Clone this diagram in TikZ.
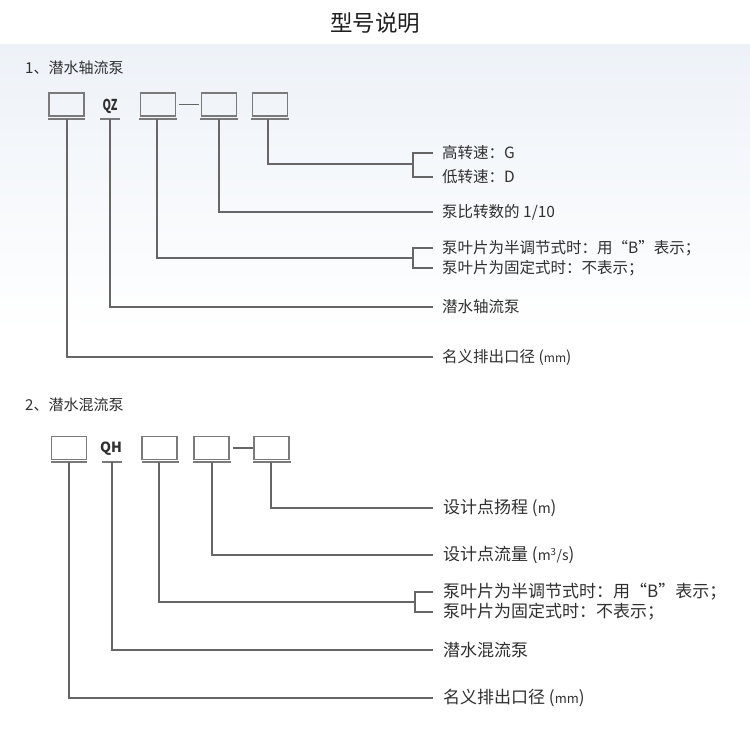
\documentclass[tikz,border=0pt]{standalone}
\usepackage{fontspec}
\setmainfont{Noto Sans CJK SC}
\newfontfamily\cjk{Noto Sans CJK SC}
\definecolor{linegray}{HTML}{666666}
\definecolor{boxgray}{HTML}{7A7A7A}
\definecolor{txtgray}{HTML}{303030}
\definecolor{bgblue}{HTML}{EDF2F8}
\begin{document}
\begin{tikzpicture}[x=1pt,y=-1pt,
  codebox/.style={draw=boxgray,line width=1.4pt,minimum width=35pt,minimum height=23pt,inner sep=0pt},
  conn/.style={draw=linegray,line width=1.3pt},
  uline/.style={draw=boxgray,line width=1.5pt},
  lblA/.style={anchor=west,inner sep=0pt,text=txtgray,font=\fontsize{15.5}{18}\selectfont},
  lblB/.style={anchor=west,inner sep=0pt,text=txtgray,font=\fontsize{17}{20}\selectfont},
  head/.style={anchor=west,inner sep=0pt,text=txtgray,font=\fontsize{15}{18}\selectfont},
  codetxt/.style={inner sep=0pt,text=txtgray,font=\fontsize{14}{16}\selectfont\bfseries}
]
\useasboundingbox (0,0) rectangle (750,730);
\fill[white] (0,0) rectangle (750,730);
\shade[top color=bgblue,bottom color=white] (0,45) rectangle (750,330);

% title
\node[inner sep=0pt,text=black!88,font=\fontsize{22.5}{26}\selectfont] (title) at (375,23) {型号说明};

% ---------- section 1 ----------
\node[head] (h1) at (25,68) {1、潜水轴流泵};
\node[codebox] (a1) at (66.5,104.5) {};
\node[codetxt,font=\fontsize{15}{17}\selectfont\bfseries\addfontfeatures{FakeStretch=0.72}] (aqz) at (110,106) {QZ};
\node[codebox] (a2) at (158,104.5) {};
\node[codebox] (a3) at (219,104.5) {};
\node[codebox] (a4) at (270,104.5) {};
\draw[conn,line width=1.8pt] (a2.east) ++(3,0) coordinate (ad1) -- ++(20,0) coordinate (ad2);
\draw[uline] (48,119) -- (85,119);
\draw[uline] (100,119) -- (120,119);
\draw[uline] (139,119) -- (177,119);
\draw[uline] (200,119) -- (238,119);
\draw[uline] (251,119) -- (289,119);

\coordinate (ab1) at (413,164);
\coordinate (ab1t) at (413,153);
\coordinate (ab1b) at (413,177);
\node[lblA] (la1) at (442,153) {高转速：G};
\node[lblA] (la2) at (442,177) {低转速：D};
\node[lblA] (la3) at (442,212) {泵比转数的 1/10};
\node[lblA] (la4) at (442,248) {泵叶片为半调节式时：用“B”表示；};
\node[lblA] (la5) at (442,268) {泵叶片为固定式时：不表示；};
\node[lblA] (la6) at (442,307) {潜水轴流泵};
\node[lblA] (la7) at (442,357) {名义排出口径 ({\fontsize{12}{14}\selectfont mm})};
\coordinate (ab2) at (413,258);
\coordinate (ab2t) at (413,248);
\coordinate (ab2b) at (413,268);

\draw[conn] (268,119) -- (268,164) -- (ab1);
\draw[conn] ([xshift=-9pt]la1.west) -- (ab1t) -- (ab1b) -- ([xshift=-9pt]la2.west);
\draw[conn] (219,119) -- (219,212) -- ([xshift=-9pt]la3.west);
\draw[conn] (157,119) -- (157,258) -- (ab2);
\draw[conn] ([xshift=-9pt]la4.west) -- (ab2t) -- (ab2b) -- ([xshift=-9pt]la5.west);
\draw[conn] (110,119) -- (110,307) -- ([xshift=-9pt]la6.west);
\draw[conn] (67,119) -- (67,357) -- ([xshift=-9pt]la7.west);

% ---------- section 2 ----------
\node[head] (h2) at (25,405) {2、潜水混流泵};
\node[codebox] (b1) at (69,448) {};
\node[codetxt] (bqh) at (111,449) {QH};
\node[codebox] (b2) at (159.5,448) {};
\node[codebox] (b3) at (211.5,448) {};
\node[codebox] (b4) at (271.5,448) {};
\draw[conn] (b3.east) ++(3,0) coordinate (bd1) -- ++(20,0) coordinate (bd2);
\draw[uline] (51,462) -- (87,462);
\draw[uline] (102,462) -- (122,462);
\draw[uline] (142,462) -- (179,462);
\draw[uline] (193,462) -- (231,462);
\draw[uline] (253,462) -- (291,462);

\node[lblB] (lb1) at (443,508) {设计点扬程 ({\fontsize{14}{16}\selectfont m})};
\node[lblB] (lb2) at (443,555) {设计点流量 ({\fontsize{14}{16}\selectfont m\textsuperscript{3}/s})};
\node[lblB] (lb3) at (443,592) {泵叶片为半调节式时：用“B”表示；};
\node[lblB] (lb4) at (443,612) {泵叶片为固定式时：不表示；};
\node[lblB] (lb5) at (443,650) {潜水混流泵};
\node[lblB] (lb6) at (443,698) {名义排出口径 ({\fontsize{13}{15}\selectfont mm})};
\coordinate (bb) at (415,602);
\coordinate (bbt) at (415,592);
\coordinate (bbb) at (415,612);

\draw[conn] (271,462) -- (271,508) -- ([xshift=-10pt]lb1.west);
\draw[conn] (212,462) -- (212,555) -- ([xshift=-10pt]lb2.west);
\draw[conn] (159,462) -- (159,602) -- (bb);
\draw[conn] ([xshift=-10pt]lb3.west) -- (bbt) -- (bbb) -- ([xshift=-10pt]lb4.west);
\draw[conn] (112,462) -- (112,650) -- ([xshift=-10pt]lb5.west);
\draw[conn] (69,462) -- (69,698) -- ([xshift=-10pt]lb6.west);
\end{tikzpicture}
\end{document}
